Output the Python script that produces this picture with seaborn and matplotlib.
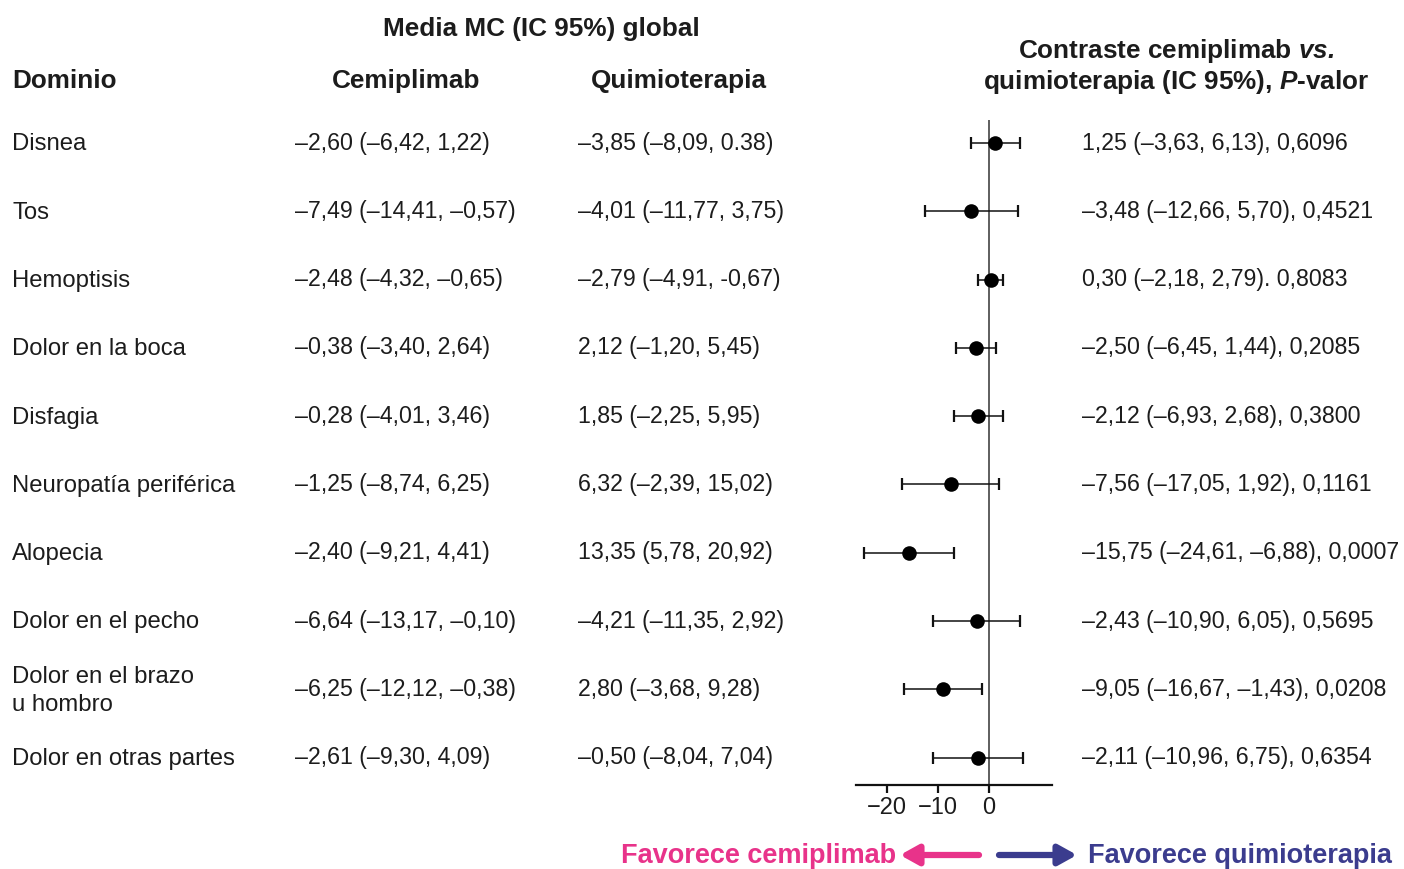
import numpy as np
import pandas as pd
import seaborn as sns
import matplotlib.pyplot as plt
from matplotlib import transforms

sns.set_theme(style="white")
plt.rcParams['font.family'] = ['Liberation Sans', 'DejaVu Sans']
plt.rcParams['mathtext.fontset'] = 'custom'
plt.rcParams['mathtext.bfit'] = 'Liberation Sans:italic:bold'

# Data
dominios = ['Disnea', 'Tos', 'Hemoptisis', 'Dolor en la boca', 'Disfagia',
            'Neuropatía periférica', 'Alopecia', 'Dolor en el pecho',
            'Dolor en el brazo\nu hombro', 'Dolor en otras partes']
cemiplimab_txt = ['–2,60 (–6,42, 1,22)', '–7,49 (–14,41, –0,57)', '–2,48 (–4,32, –0,65)',
                  '–0,38 (–3,40, 2,64)', '–0,28 (–4,01, 3,46)', '–1,25 (–8,74, 6,25)',
                  '–2,40 (–9,21, 4,41)', '–6,64 (–13,17, –0,10)', '–6,25 (–12,12, –0,38)',
                  '–2,61 (–9,30, 4,09)']
quimio_txt = ['–3,85 (–8,09, 0.38)', '–4,01 (–11,77, 3,75)', '–2,79 (–4,91, -0,67)',
              '2,12 (–1,20, 5,45)', '1,85 (–2,25, 5,95)', '6,32 (–2,39, 15,02)',
              '13,35 (5,78, 20,92)', '–4,21 (–11,35, 2,92)', '2,80 (–3,68, 9,28)',
              '–0,50 (–8,04, 7,04)']
contraste_txt = ['1,25 (–3,63, 6,13), 0,6096', '–3,48 (–12,66, 5,70), 0,4521',
                 '0,30 (–2,18, 2,79). 0,8083', '–2,50 (–6,45, 1,44), 0,2085',
                 '–2,12 (–6,93, 2,68), 0,3800', '–7,56 (–17,05, 1,92), 0,1161',
                 '–15,75 (–24,61, –6,88), 0,0007', '–2,43 (–10,90, 6,05), 0,5695',
                 '–9,05 (–16,67, –1,43), 0,0208', '–2,11 (–10,96, 6,75), 0,6354']
estimate = [1.25, -3.48, 0.30, -2.50, -2.12, -7.56, -15.75, -2.43, -9.05, -2.11]
ci_low = [-3.63, -12.66, -2.18, -6.45, -6.93, -17.05, -24.61, -10.90, -16.67, -10.96]
ci_high = [6.13, 5.70, 2.79, 1.44, 2.68, 1.92, -6.88, 6.05, -1.43, 6.75]
xticks = [-20, -10, 0]
xtick_labels = ['−20', '−10', '0']

df = pd.DataFrame({'dominio': dominios, 'est': estimate, 'lo': ci_low, 'hi': ci_high})
df['row'] = np.arange(len(df))

W, H = 1404, 869
fig = plt.figure(figsize=(W / 100, H / 100), dpi=100)

def fx(px):
    return px / W

def fy(py):
    return 1 - py / H

# forest axes: pixel box x 856..1052, y 120..785
ax = fig.add_axes([fx(856), fy(785), fx(1052) - fx(856), fy(120) - fy(785)])
ax.set_xlim(-26.1, 12.35)
ax.set_ylim(9.4, -0.337)

TXT = '#1c1c1c'
ax.axvline(0, color='#333333', lw=1.1, zorder=1)
ax.errorbar(df['est'], df['row'], xerr=[df['est'] - df['lo'], df['hi'] - df['est']],
            fmt='none', ecolor='#111111', elinewidth=1.1, capsize=4, capthick=1.6, zorder=2)
sns.scatterplot(data=df, x='est', y='row', ax=ax, color='black', s=110,
                edgecolor='black', linewidth=0, zorder=3, legend=False)

for s in ['top', 'right', 'left']:
    ax.spines[s].set_visible(False)
ax.spines['bottom'].set_color('#111111')
ax.spines['bottom'].set_linewidth(1.6)
ax.set_xticks(xticks)
ax.set_xticklabels(xtick_labels)
ax.set_yticks([])
ax.set_xlabel('')
ax.set_ylabel('')
ax.tick_params(axis='x', direction='out', length=6, width=1.6, color='#111111',
               labelsize=17, labelcolor=TXT, pad=3, bottom=True)

# text columns aligned with rows
tr = transforms.blended_transform_factory(fig.transFigure, ax.transData)
fs = 16.7
for i, r in df.iterrows():
    fig.text(fx(12), r['row'] + 0.02, r['dominio'], transform=tr, fontsize=17.2, color=TXT,
             va='center', ha='left', linespacing=1.38)
    fig.text(fx(295), r['row'], cemiplimab_txt[i], transform=tr, fontsize=fs, color=TXT,
             va='center', ha='left')
    fig.text(fx(578), r['row'], quimio_txt[i], transform=tr, fontsize=fs, color=TXT,
             va='center', ha='left')
    fig.text(fx(1082), r['row'], contraste_txt[i], transform=tr, fontsize=fs, color=TXT,
             va='center', ha='left')

# headers
hfs = 18.8
fig.text(fx(541), fy(29), 'Media MC (IC 95%) global', fontsize=hfs, weight='bold',
         color=TXT, ha='center', va='center')
fig.text(fx(12), fy(81), 'Dominio', fontsize=hfs, weight='bold', color=TXT,
         ha='left', va='center')
fig.text(fx(406), fy(81), 'Cemiplimab', fontsize=hfs, weight='bold', color=TXT,
         ha='center', va='center')
fig.text(fx(679), fy(81), 'Quimioterapia', fontsize=hfs, weight='bold', color=TXT,
         ha='center', va='center')
fig.text(fx(1176), fy(51), r'Contraste cemiplimab $\mathbfit{vs.}$', fontsize=hfs,
         weight='bold', color=TXT, ha='center', va='center')
fig.text(fx(1176), fy(82), r'quimioterapia (IC 95%), $\mathbfit{P}$-valor', fontsize=hfs,
         weight='bold', color=TXT, ha='center', va='center')

# favour arrows
PINK = '#E8338A'
NAVY = '#3B3C8E'
fig.text(fx(896), fy(856), 'Favorece cemiplimab', fontsize=19.5, weight='bold',
         color=PINK, ha='right', va='center')
fig.text(fx(1088), fy(856), 'Favorece quimioterapia', fontsize=19.5, weight='bold',
         color=NAVY, ha='left', va='center')
ax.annotate('', xy=(fx(900), fy(855)), xytext=(fx(979), fy(855)),
            xycoords='figure fraction', textcoords='figure fraction',
            arrowprops=dict(arrowstyle='-|>,head_length=0.9,head_width=0.5',
                            lw=4.5, color=PINK, shrinkA=0, shrinkB=0))
ax.annotate('', xy=(fx(1077), fy(855)), xytext=(fx(999), fy(855)),
            xycoords='figure fraction', textcoords='figure fraction',
            arrowprops=dict(arrowstyle='-|>,head_length=0.9,head_width=0.5',
                            lw=4.5, color=NAVY, shrinkA=0, shrinkB=0))

fig.savefig('out.png', dpi=100)
